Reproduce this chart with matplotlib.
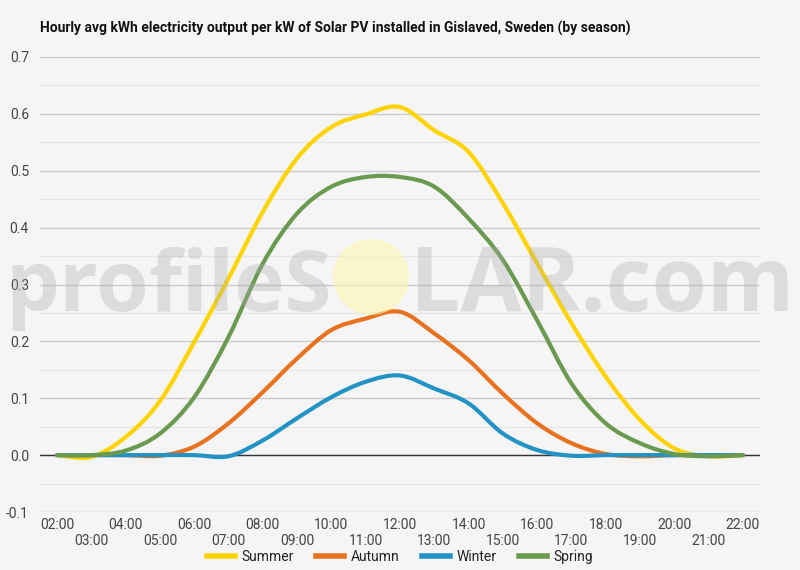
import numpy as np
import matplotlib
matplotlib.use('Agg')
import matplotlib.pyplot as plt
from matplotlib.path import Path
from matplotlib.patches import PathPatch, Circle
from matplotlib.lines import Line2D

plt.rcParams['font.family'] = ['Roboto', 'DejaVu Sans']

hours = ['%02d:00' % h for h in range(2, 23)]
summer = [0.0, -0.003, 0.032, 0.095, 0.199, 0.311, 0.428, 0.522, 0.577, 0.599, 0.612,
          0.571, 0.533, 0.443, 0.337, 0.232, 0.138, 0.062, 0.012, -0.002, 0.0]
autumn = [0.0, 0.0, 0.0, -0.001, 0.015, 0.056, 0.111, 0.170, 0.220, 0.240, 0.252,
          0.214, 0.167, 0.108, 0.056, 0.021, 0.002, -0.002, 0.0, 0.0, 0.0]
winter = [0.0, 0.0, 0.0, 0.0, 0.0, -0.002, 0.026, 0.065, 0.102, 0.129, 0.140,
          0.117, 0.091, 0.038, 0.009, -0.001, 0.0, 0.0, 0.0, 0.0, 0.0]
spring = [0.0, 0.0, 0.008, 0.038, 0.102, 0.208, 0.337, 0.425, 0.472, 0.489, 0.489,
          0.472, 0.416, 0.343, 0.237, 0.126, 0.056, 0.021, 0.002, -0.002, 0.0]

series = [('Summer', summer, '#fdd400'),
          ('Autumn', autumn, '#e8721f'),
          ('Winter', winter, '#2393c6'),
          ('Spring', spring, '#6a9a50')]

bg = '#f5f5f5'


def smooth(xs, ys):
    # catmull-rom style bezier through the points
    p = np.column_stack([xs, ys]).astype(float)
    n = len(p)
    verts = [p[0]]
    codes = [Path.MOVETO]
    for i in range(n - 1):
        p0 = p[i - 1] if i > 0 else p[i]
        p3 = p[i + 2] if i + 2 < n else p[i + 1]
        c1 = p[i] + (p[i + 1] - p0) / 6.0
        c2 = p[i + 1] - (p3 - p[i]) / 6.0
        verts += [c1, c2, p[i + 1]]
        codes += [Path.CURVE4] * 3
    return Path(verts, codes)


fig = plt.figure(figsize=(8, 5.7), dpi=100, facecolor=bg)
ax = fig.add_axes([0.05, 1 - 512 / 570, 0.9, (512 - 57) / 570])
ax.set_facecolor(bg)

x = np.arange(len(hours))
ax.set_xlim(-0.5, len(hours) - 0.5)
ax.set_ylim(-0.1, 0.7)

for v in np.arange(-0.1, 0.701, 0.05):
    major = abs(round(v * 20) % 2) == 0
    ax.axhline(v, color='#cccccc' if major else '#e6e6e6', lw=1, zorder=1)
ax.axhline(0, color='#333333', lw=1, zorder=2)

for name, vals, col in series:
    ax.add_patch(PathPatch(smooth(x, vals), facecolor='none', edgecolor=col,
                           lw=3, capstyle='round', joinstyle='round', zorder=3))

for s in ax.spines.values():
    s.set_visible(False)
ax.set_yticks(np.arange(-0.1, 0.71, 0.1))
ax.set_yticklabels(['%.1f' % v for v in np.arange(-0.1, 0.71, 0.1)])
ax.set_xticks(x)
ax.set_xticklabels([h if i % 2 == 0 else '\n' + h for i, h in enumerate(hours)],
                   linespacing=1.25)
ax.tick_params(length=0, labelsize=10, colors='#444444', pad=4)
ax.tick_params(axis='y', pad=8)

# watermark, sized to fit the pixel spans seen in the reference
renderer = fig.canvas.get_renderer()
for txt, x0, x1, ha in [('profileS', 5, 332, 'right'), ('LAR.com', 410, 794, 'left')]:
    t = fig.text((x1 if ha == 'right' else x0) / 800, 1 - 311 / 570, txt,
                 ha=ha, va='baseline', fontsize=70, family='Open Sans',
                 weight='bold', color='#aaaaaa', alpha=0.33, zorder=5)
    w = t.get_window_extent(renderer).width
    t.set_fontsize(70 * (x1 - x0) / w)
sun = Circle((3.71, (570 - 277) / 100), 0.38, transform=fig.dpi_scale_trans,
             facecolor='#fff6b0', alpha=0.6, edgecolor='none', zorder=4)
fig.patches.append(sun)

fig.text(40 / 800, 1 - 28 / 570,
         'Hourly avg kWh electricity output per kW of Solar PV installed in Gislaved, Sweden (by season)',
         fontsize=10, weight='bold', color='#111111', va='center', ha='left')

handles = [Line2D([], [], color=c, lw=4) for _, _, c in series]
fig.legend(handles, [n for n, _, _ in series], loc='center', ncol=4,
           bbox_to_anchor=(0.5, 1 - 557 / 570), frameon=False, fontsize=10,
           handlelength=2.0, columnspacing=1.6, handletextpad=0.5,
           labelcolor='#222222')

fig.savefig('out.png', dpi=100, facecolor=bg)
